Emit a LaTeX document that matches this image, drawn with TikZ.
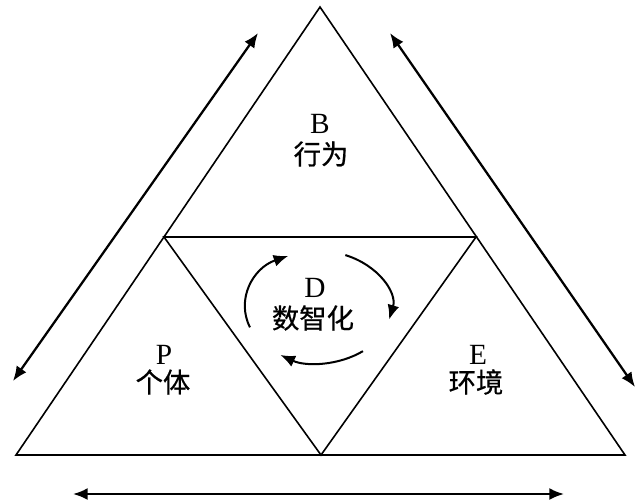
\documentclass[tikz,border=0pt]{standalone}
\usepackage{fontspec}
\setmainfont{Liberation Serif}
\newfontfamily\cjk[FakeBold=0.6]{Noto Sans CJK SC}
\usetikzlibrary{arrows.meta}
\begin{document}
\begin{tikzpicture}[x=0.75pt,y=-0.75pt,
  edge/.style={line width=1.2pt,line join=miter},
  darrow/.style={line width=1.7pt,{Latex[length=11pt,width=9pt]}-{Latex[length=11pt,width=9pt]}},
  carrow/.style={line width=1.5pt,-{Latex[length=11pt,width=9pt]}},
  lat/.style={inner sep=0pt,font=\fontsize{22}{22}\selectfont},
  han/.style={inner sep=0pt,font=\cjk\fontsize{20.5}{20.5}\selectfont}]
\useasboundingbox (0,0) rectangle (642,501);
% outer triangle
\coordinate (A) at (320,7);
\coordinate (L) at (16,455);
\coordinate (R) at (625,455);
\coordinate (IL) at (164,237);
\coordinate (IR) at (476,237);
\coordinate (IB) at (321,455);
\draw[edge] (A) -- (L) -- (R) -- cycle;
\draw[edge] (IL) -- (IR) -- (IB) -- cycle;
% double arrows
\coordinate (la1) at (13,381);
\coordinate (la2) at (258,33);
\coordinate (ra1) at (390,33);
\coordinate (ra2) at (635,387);
\coordinate (ba1) at (73,494);
\coordinate (ba2) at (564,494);
\draw[darrow] (la1) -- (la2);
\draw[darrow] (ra1) -- (ra2);
\draw[darrow] (ba1) -- (ba2);
% circular arrows
\coordinate (C) at (318,307);
\draw[carrow] ([shift={(158.7:73 and 56)}]C) arc[start angle=158.7,end angle=246,x radius=73,y radius=56];
\draw[carrow] ([shift={(-68:73 and 56)}]C) arc[start angle=-68,end angle=13,x radius=73,y radius=56];
\draw[carrow] ([shift={(52:73 and 56)}]C) arc[start angle=52,end angle=121,x radius=73,y radius=56];
% labels
\node[lat] (B) at (320,124) {B};
\node[han] (Bt) at (321,154) {行为};
\node[lat] (D) at (315,288) {D};
\node[han] (Dt) at (313,318) {数智化};
\node[lat] (P) at (164,355) {P};
\node[han] (Pt) at (163,382) {个体};
\node[lat] (E) at (478,355) {E};
\node[han] (Et) at (476,382) {环境};
\end{tikzpicture}
\end{document}
